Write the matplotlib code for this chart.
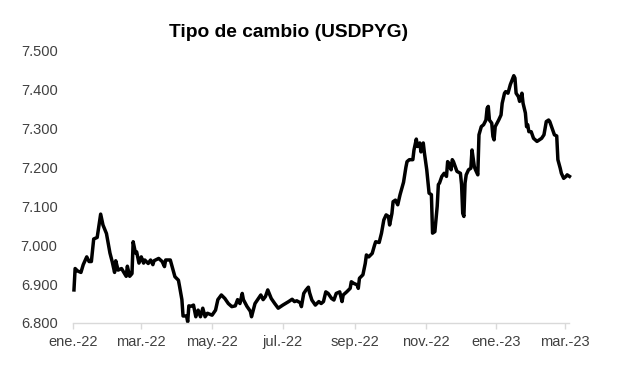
import numpy as np
import matplotlib
matplotlib.use('Agg')
import matplotlib.pyplot as plt
import pandas as pd
from matplotlib import rcParams

rcParams['font.family'] = ['Liberation Sans', 'DejaVu Sans']

# data
dates = [
  '2022-01-02', '2022-01-03', '2022-01-05', '2022-01-08', '2022-01-10', '2022-01-13', '2022-01-15',
  '2022-01-17', '2022-01-19', '2022-01-22', '2022-01-25', '2022-01-27', '2022-01-30', '2022-02-02',
  '2022-02-04', '2022-02-06', '2022-02-07', '2022-02-09', '2022-02-12', '2022-02-14', '2022-02-16',
  '2022-02-17', '2022-02-19', '2022-02-21', '2022-02-22', '2022-02-24', '2022-02-25', '2022-02-27',
  '2022-03-01', '2022-03-03', '2022-03-04', '2022-03-07', '2022-03-09', '2022-03-11', '2022-03-12',
  '2022-03-16', '2022-03-19', '2022-03-21', '2022-03-22', '2022-03-26', '2022-03-28', '2022-03-30',
  '2022-04-02', '2022-04-03', '2022-04-05', '2022-04-06', '2022-04-09', '2022-04-10', '2022-04-11',
  '2022-04-13', '2022-04-15', '2022-04-17', '2022-04-19', '2022-04-21', '2022-04-23', '2022-04-25',
  '2022-04-27', '2022-05-01', '2022-05-04', '2022-05-06', '2022-05-09', '2022-05-12', '2022-05-15',
  '2022-05-18', '2022-05-21', '2022-05-23', '2022-05-25', '2022-05-27', '2022-05-28', '2022-05-31',
  '2022-06-03', '2022-06-04', '2022-06-07', '2022-06-10', '2022-06-12', '2022-06-14', '2022-06-16',
  '2022-06-18', '2022-06-21', '2022-06-24', '2022-06-27', '2022-07-01', '2022-07-06', '2022-07-09',
  '2022-07-11', '2022-07-13', '2022-07-16', '2022-07-17', '2022-07-19', '2022-07-21', '2022-07-23',
  '2022-07-24', '2022-07-26', '2022-07-29', '2022-08-01', '2022-08-03', '2022-08-05', '2022-08-07',
  '2022-08-09', '2022-08-12', '2022-08-14', '2022-08-16', '2022-08-19', '2022-08-21', '2022-08-22',
  '2022-08-25', '2022-08-28', '2022-08-29', '2022-08-31', '2022-09-03', '2022-09-04', '2022-09-05',
  '2022-09-08', '2022-09-10', '2022-09-11', '2022-09-13', '2022-09-16', '2022-09-18', '2022-09-19',
  '2022-09-22', '2022-09-24', '2022-09-26', '2022-09-28', '2022-09-30', '2022-10-01', '2022-10-03',
  '2022-10-04', '2022-10-06', '2022-10-08', '2022-10-10', '2022-10-12', '2022-10-13', '2022-10-15',
  '2022-10-16', '2022-10-18', '2022-10-21', '2022-10-22', '2022-10-24', '2022-10-25', '2022-10-27',
  '2022-10-28', '2022-10-30', '2022-10-31', '2022-11-02', '2022-11-04', '2022-11-06', '2022-11-07',
  '2022-11-09', '2022-11-11', '2022-11-12', '2022-11-13', '2022-11-15', '2022-11-17', '2022-11-19',
  '2022-11-20', '2022-11-21', '2022-11-23', '2022-11-24', '2022-11-25', '2022-11-27', '2022-11-28',
  '2022-12-01', '2022-12-02', '2022-12-03', '2022-12-04', '2022-12-05', '2022-12-06', '2022-12-08',
  '2022-12-10', '2022-12-11', '2022-12-12', '2022-12-13', '2022-12-14', '2022-12-16', '2022-12-17',
  '2022-12-19', '2022-12-21', '2022-12-23', '2022-12-24', '2022-12-25', '2022-12-26', '2022-12-28',
  '2022-12-29', '2022-12-30', '2022-12-31', '2023-01-03', '2023-01-05', '2023-01-06', '2023-01-08',
  '2023-01-09', '2023-01-11', '2023-01-13', '2023-01-16', '2023-01-17', '2023-01-18', '2023-01-20',
  '2023-01-21', '2023-01-23', '2023-01-24', '2023-01-26', '2023-01-27', '2023-01-28', '2023-01-29',
  '2023-01-31', '2023-02-02', '2023-02-05', '2023-02-07', '2023-02-09', '2023-02-11', '2023-02-13',
  '2023-02-15', '2023-02-16', '2023-02-18', '2023-02-20', '2023-02-22', '2023-02-23', '2023-02-25',
  '2023-02-26', '2023-02-28', '2023-03-02', '2023-03-03', '2023-03-05',
]
usdpyg = [
  6.885, 6.940, 6.934, 6.930, 6.950, 6.970, 6.958,
  6.958, 7.016, 7.020, 7.080, 7.052, 7.030, 6.980,
  6.957, 6.930, 6.960, 6.936, 6.940, 6.930, 6.920,
  6.946, 6.920, 6.927, 7.009, 6.980, 6.983, 6.954,
  6.970, 6.954, 6.962, 6.953, 6.962, 6.950, 6.960,
  6.966, 6.958, 6.945, 6.962, 6.962, 6.940, 6.919,
  6.910, 6.894, 6.860, 6.818, 6.818, 6.803, 6.844,
  6.843, 6.846, 6.816, 6.833, 6.816, 6.838, 6.816,
  6.825, 6.820, 6.833, 6.860, 6.872, 6.863, 6.850,
  6.842, 6.844, 6.860, 6.850, 6.876, 6.860, 6.843,
  6.830, 6.816, 6.850, 6.863, 6.872, 6.860, 6.868,
  6.885, 6.863, 6.850, 6.838, 6.846, 6.855, 6.861,
  6.855, 6.857, 6.852, 6.842, 6.876, 6.885, 6.892,
  6.878, 6.859, 6.846, 6.855, 6.850, 6.855, 6.880,
  6.876, 6.863, 6.859, 6.876, 6.880, 6.855, 6.872,
  6.880, 6.889, 6.906, 6.902, 6.898, 6.889, 6.915,
  6.924, 6.953, 6.975, 6.970, 6.979, 7.000, 7.009,
  7.007, 7.031, 7.065, 7.078, 7.074, 7.052, 7.082,
  7.112, 7.116, 7.104, 7.130, 7.152, 7.162, 7.200,
  7.215, 7.220, 7.220, 7.245, 7.273, 7.254, 7.263,
  7.240, 7.263, 7.237, 7.194, 7.134, 7.130, 7.031,
  7.035, 7.100, 7.156, 7.160, 7.177, 7.185, 7.177,
  7.215, 7.211, 7.194, 7.220, 7.215, 7.198, 7.190,
  7.185, 7.156, 7.082, 7.074, 7.160, 7.181, 7.194,
  7.198, 7.245, 7.224, 7.202, 7.194, 7.181, 7.284,
  7.305, 7.310, 7.322, 7.352, 7.357, 7.322, 7.314,
  7.280, 7.271, 7.305, 7.322, 7.335, 7.365, 7.391,
  7.395, 7.391, 7.413, 7.436, 7.430, 7.391, 7.382,
  7.370, 7.391, 7.365, 7.340, 7.305, 7.310, 7.292,
  7.292, 7.275, 7.267, 7.271, 7.275, 7.284, 7.318,
  7.322, 7.318, 7.301, 7.284, 7.281, 7.220, 7.198,
  7.185, 7.172, 7.177, 7.181, 7.177,
]

tick_dates = ['2022-01-01', '2022-03-01', '2022-05-01', '2022-07-01', '2022-09-01',
              '2022-11-01', '2023-01-01', '2023-03-01']
tick_labels = ['ene.-22', 'mar.-22', 'may.-22', 'jul.-22', 'sep.-22',
               'nov.-22', 'ene.-23', 'mar.-23']
y_ticks = [6.8, 6.9, 7.0, 7.1, 7.2, 7.3, 7.4, 7.5]
y_labels = ['6.800', '6.900', '7.000', '7.100', '7.200', '7.300', '7.400', '7.500']

x = pd.to_datetime(dates)

fig = plt.figure(figsize=(6.17, 3.91), dpi=100)
ax = fig.add_axes([0.118, 0.174, 0.805, 0.696])

ax.plot(x, usdpyg, color='black', lw=2.5, solid_joinstyle='round', clip_on=False)

ax.set_xlim(pd.Timestamp('2022-01-01'), pd.Timestamp('2023-03-05'))
ax.set_ylim(6.8, 7.5)

ax.set_xticks(pd.to_datetime(tick_dates))
ax.set_xticklabels(tick_labels)
ax.set_yticks(y_ticks)
ax.set_yticklabels(y_labels)

for s in ['top', 'right', 'left']:
  ax.spines[s].set_visible(False)
ax.spines['bottom'].set_color('#d9d9d9')
ax.spines['bottom'].set_linewidth(1.0)

ax.tick_params(axis='x', colors='#d9d9d9', length=4, width=1, labelsize=10.5, labelcolor='#404040', pad=5)
ax.tick_params(axis='y', length=0, labelsize=10.5, labelcolor='#404040', pad=11)

fig.text(0.4676, 0.918, 'Tipo de cambio (USDPYG)', ha='center', va='center',
         fontsize=13.8, fontweight='bold', color='black')

fig.savefig('out.png', dpi=100)
